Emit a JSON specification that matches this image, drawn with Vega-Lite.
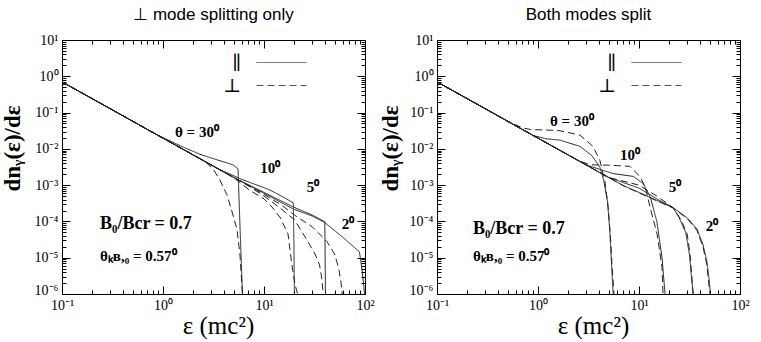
{
  "$schema": "https://vega.github.io/schema/vega-lite/v6.json",
  "padding": {"left": 1, "top": 6, "right": 5, "bottom": 5},
  "config": {"view": {"stroke": null}, "font": "Liberation Serif"},
  "datasets": {
    "curves": [
      {"p":"L","c":"30","m":"∥","e":0.1,"y":0.7},{"p":"L","c":"30","m":"∥","e":0.3,"y":0.128},{"p":"L","c":"30","m":"∥","e":0.87,"y":0.0245},{"p":"L","c":"30","m":"∥","e":1.5,"y":0.012},{"p":"L","c":"30","m":"∥","e":2.32,"y":0.00708},{"p":"L","c":"30","m":"∥","e":3.5,"y":0.0049},{"p":"L","c":"30","m":"∥","e":4.93,"y":0.00363},{"p":"L","c":"30","m":"∥","e":5.53,"y":0.00282},{"p":"L","c":"30","m":"∥","e":5.78,"y":7.9e-5},{"p":"L","c":"30","m":"∥","e":6.12,"y":1e-6},
      {"p":"L","c":"30","m":"⊥","e":0.1,"y":0.7},{"p":"L","c":"30","m":"⊥","e":0.3,"y":0.128},{"p":"L","c":"30","m":"⊥","e":1,"y":0.0197},{"p":"L","c":"30","m":"⊥","e":2,"y":0.00675},{"p":"L","c":"30","m":"⊥","e":2.6,"y":0.00449},{"p":"L","c":"30","m":"⊥","e":3.13,"y":0.00282},{"p":"L","c":"30","m":"⊥","e":3.66,"y":0.00138},{"p":"L","c":"30","m":"⊥","e":4.3,"y":5.4e-4},{"p":"L","c":"30","m":"⊥","e":4.93,"y":1.51e-4},{"p":"L","c":"30","m":"⊥","e":5.41,"y":5.9e-5},{"p":"L","c":"30","m":"⊥","e":5.78,"y":1.2e-5},{"p":"L","c":"30","m":"⊥","e":6.12,"y":1e-6},
      {"p":"L","c":"10","m":"∥","e":0.1,"y":0.7},{"p":"L","c":"10","m":"∥","e":0.3,"y":0.128},{"p":"L","c":"10","m":"∥","e":1,"y":0.0197},{"p":"L","c":"10","m":"∥","e":2,"y":0.00675},{"p":"L","c":"10","m":"∥","e":3.5,"y":0.00283},{"p":"L","c":"10","m":"∥","e":6,"y":0.00145},{"p":"L","c":"10","m":"∥","e":11.4,"y":7.4e-4},{"p":"L","c":"10","m":"∥","e":16,"y":4.47e-4},{"p":"L","c":"10","m":"∥","e":19.5,"y":3.24e-4},{"p":"L","c":"10","m":"∥","e":19.8,"y":2e-5},{"p":"L","c":"10","m":"∥","e":20,"y":1e-6},
      {"p":"L","c":"10","m":"⊥","e":0.1,"y":0.7},{"p":"L","c":"10","m":"⊥","e":0.3,"y":0.128},{"p":"L","c":"10","m":"⊥","e":1,"y":0.0197},{"p":"L","c":"10","m":"⊥","e":2,"y":0.00675},{"p":"L","c":"10","m":"⊥","e":5,"y":0.00163},{"p":"L","c":"10","m":"⊥","e":7.26,"y":7.1e-4},{"p":"L","c":"10","m":"⊥","e":10,"y":4.2e-4},{"p":"L","c":"10","m":"⊥","e":12,"y":2.5e-4},{"p":"L","c":"10","m":"⊥","e":14.5,"y":1.26e-4},{"p":"L","c":"10","m":"⊥","e":17.3,"y":4.5e-5},{"p":"L","c":"10","m":"⊥","e":18.9,"y":6.3e-6},{"p":"L","c":"10","m":"⊥","e":20.3,"y":1.8e-6},{"p":"L","c":"10","m":"⊥","e":21.5,"y":1e-6},
      {"p":"L","c":"5","m":"∥","e":0.1,"y":0.7},{"p":"L","c":"5","m":"∥","e":0.3,"y":0.128},{"p":"L","c":"5","m":"∥","e":1,"y":0.0197},{"p":"L","c":"5","m":"∥","e":2,"y":0.00675},{"p":"L","c":"5","m":"∥","e":5,"y":0.00163},{"p":"L","c":"5","m":"∥","e":10,"y":6.3e-4},{"p":"L","c":"5","m":"∥","e":19.5,"y":2.5e-4},{"p":"L","c":"5","m":"∥","e":30,"y":1.51e-4},{"p":"L","c":"5","m":"∥","e":40,"y":9.8e-5},{"p":"L","c":"5","m":"∥","e":40.3,"y":1e-5},{"p":"L","c":"5","m":"∥","e":40.6,"y":1e-6},
      {"p":"L","c":"5","m":"⊥","e":0.1,"y":0.7},{"p":"L","c":"5","m":"⊥","e":0.3,"y":0.128},{"p":"L","c":"5","m":"⊥","e":1,"y":0.0197},{"p":"L","c":"5","m":"⊥","e":2,"y":0.00675},{"p":"L","c":"5","m":"⊥","e":5,"y":0.00163},{"p":"L","c":"5","m":"⊥","e":7,"y":9.66e-4},{"p":"L","c":"5","m":"⊥","e":10,"y":5e-4},{"p":"L","c":"5","m":"⊥","e":14,"y":2.5e-4},{"p":"L","c":"5","m":"⊥","e":20,"y":1.12e-4},{"p":"L","c":"5","m":"⊥","e":26.4,"y":3.2e-5},{"p":"L","c":"5","m":"⊥","e":32,"y":1.26e-5},{"p":"L","c":"5","m":"⊥","e":35.5,"y":6.3e-6},{"p":"L","c":"5","m":"⊥","e":37.5,"y":2.5e-6},{"p":"L","c":"5","m":"⊥","e":38.5,"y":1e-6},
      {"p":"L","c":"2","m":"∥","e":0.1,"y":0.7},{"p":"L","c":"2","m":"∥","e":0.3,"y":0.128},{"p":"L","c":"2","m":"∥","e":1,"y":0.0197},{"p":"L","c":"2","m":"∥","e":2,"y":0.00675},{"p":"L","c":"2","m":"∥","e":5,"y":0.00163},{"p":"L","c":"2","m":"∥","e":10,"y":6e-4},{"p":"L","c":"2","m":"∥","e":19.5,"y":2.2e-4},{"p":"L","c":"2","m":"∥","e":30,"y":1.41e-4},{"p":"L","c":"2","m":"∥","e":40,"y":9.3e-5},{"p":"L","c":"2","m":"∥","e":60,"y":3.7e-5},{"p":"L","c":"2","m":"∥","e":88,"y":1.45e-5},{"p":"L","c":"2","m":"∥","e":91,"y":7.9e-6},{"p":"L","c":"2","m":"∥","e":94,"y":4e-6},{"p":"L","c":"2","m":"∥","e":97,"y":1.8e-6},{"p":"L","c":"2","m":"∥","e":99,"y":1e-6},
      {"p":"L","c":"2","m":"⊥","e":0.1,"y":0.7},{"p":"L","c":"2","m":"⊥","e":0.3,"y":0.128},{"p":"L","c":"2","m":"⊥","e":1,"y":0.0197},{"p":"L","c":"2","m":"⊥","e":2,"y":0.00675},{"p":"L","c":"2","m":"⊥","e":5,"y":0.00163},{"p":"L","c":"2","m":"⊥","e":10,"y":5.56e-4},{"p":"L","c":"2","m":"⊥","e":15,"y":2.8e-4},{"p":"L","c":"2","m":"⊥","e":20,"y":1.5e-4},{"p":"L","c":"2","m":"⊥","e":30,"y":7.1e-5},{"p":"L","c":"2","m":"⊥","e":42,"y":2.8e-5},{"p":"L","c":"2","m":"⊥","e":50,"y":1.26e-5},{"p":"L","c":"2","m":"⊥","e":55,"y":5e-6},{"p":"L","c":"2","m":"⊥","e":58,"y":2e-6},{"p":"L","c":"2","m":"⊥","e":59.5,"y":1e-6},

      {"p":"R","c":"30","m":"⊥","e":0.1,"y":0.7},{"p":"R","c":"30","m":"⊥","e":0.3,"y":0.128},{"p":"R","c":"30","m":"⊥","e":0.5,"y":0.0578},{"p":"R","c":"30","m":"⊥","e":0.7,"y":0.038},{"p":"R","c":"30","m":"⊥","e":0.85,"y":0.0339},{"p":"R","c":"30","m":"⊥","e":1.2,"y":0.0331},{"p":"R","c":"30","m":"⊥","e":1.65,"y":0.0316},{"p":"R","c":"30","m":"⊥","e":2.6,"y":0.024},{"p":"R","c":"30","m":"⊥","e":3.5,"y":0.0117},{"p":"R","c":"30","m":"⊥","e":4.1,"y":0.00479},{"p":"R","c":"30","m":"⊥","e":4.6,"y":0.00126},{"p":"R","c":"30","m":"⊥","e":4.9,"y":3.2e-4},{"p":"R","c":"30","m":"⊥","e":5.2,"y":4.5e-5},{"p":"R","c":"30","m":"⊥","e":5.4,"y":6.5e-6},{"p":"R","c":"30","m":"⊥","e":5.65,"y":1e-6},
      {"p":"R","c":"30","m":"∥","e":0.1,"y":0.7},{"p":"R","c":"30","m":"∥","e":0.3,"y":0.128},{"p":"R","c":"30","m":"∥","e":0.9,"y":0.0232},{"p":"R","c":"30","m":"∥","e":1.2,"y":0.019},{"p":"R","c":"30","m":"∥","e":1.65,"y":0.0174},{"p":"R","c":"30","m":"∥","e":2.6,"y":0.0117},{"p":"R","c":"30","m":"∥","e":3.4,"y":0.0066},{"p":"R","c":"30","m":"∥","e":4.1,"y":0.00316},{"p":"R","c":"30","m":"∥","e":4.5,"y":0.00126},{"p":"R","c":"30","m":"∥","e":4.9,"y":3.2e-4},{"p":"R","c":"30","m":"∥","e":5.15,"y":5e-5},{"p":"R","c":"30","m":"∥","e":5.35,"y":6.3e-6},{"p":"R","c":"30","m":"∥","e":5.55,"y":1e-6},
      {"p":"R","c":"10","m":"⊥","e":0.1,"y":0.7},{"p":"R","c":"10","m":"⊥","e":0.3,"y":0.128},{"p":"R","c":"10","m":"⊥","e":1,"y":0.0197},{"p":"R","c":"10","m":"⊥","e":2.5,"y":0.00476},{"p":"R","c":"10","m":"⊥","e":3.3,"y":0.00363},{"p":"R","c":"10","m":"⊥","e":5,"y":0.00355},{"p":"R","c":"10","m":"⊥","e":8.1,"y":0.0033},{"p":"R","c":"10","m":"⊥","e":10.2,"y":0.00174},{"p":"R","c":"10","m":"⊥","e":11.5,"y":9.1e-4},{"p":"R","c":"10","m":"⊥","e":12.85,"y":2.5e-4},{"p":"R","c":"10","m":"⊥","e":15.1,"y":4.5e-5},{"p":"R","c":"10","m":"⊥","e":16.9,"y":5.4e-6},{"p":"R","c":"10","m":"⊥","e":17.3,"y":1e-6},
      {"p":"R","c":"10","m":"∥","e":0.1,"y":0.7},{"p":"R","c":"10","m":"∥","e":0.3,"y":0.128},{"p":"R","c":"10","m":"∥","e":1,"y":0.0197},{"p":"R","c":"10","m":"∥","e":2,"y":0.00675},{"p":"R","c":"10","m":"∥","e":3,"y":0.0036},{"p":"R","c":"10","m":"∥","e":5.5,"y":0.00209},{"p":"R","c":"10","m":"∥","e":8.8,"y":0.00174},{"p":"R","c":"10","m":"∥","e":11,"y":0.0011},{"p":"R","c":"10","m":"∥","e":12.9,"y":4.8e-4},{"p":"R","c":"10","m":"∥","e":15,"y":1.02e-4},{"p":"R","c":"10","m":"∥","e":16.9,"y":1e-5},{"p":"R","c":"10","m":"∥","e":18.1,"y":1e-6},
      {"p":"R","c":"5","m":"⊥","e":0.1,"y":0.7},{"p":"R","c":"5","m":"⊥","e":0.3,"y":0.128},{"p":"R","c":"5","m":"⊥","e":1,"y":0.0197},{"p":"R","c":"5","m":"⊥","e":2,"y":0.00675},{"p":"R","c":"5","m":"⊥","e":5,"y":0.00163},{"p":"R","c":"5","m":"⊥","e":10,"y":0.001},{"p":"R","c":"5","m":"⊥","e":15,"y":5e-4},{"p":"R","c":"5","m":"⊥","e":21.7,"y":2.4e-4},{"p":"R","c":"5","m":"⊥","e":26,"y":1.12e-4},{"p":"R","c":"5","m":"⊥","e":30,"y":4.5e-5},{"p":"R","c":"5","m":"⊥","e":32,"y":1.26e-5},{"p":"R","c":"5","m":"⊥","e":33.5,"y":2.5e-6},{"p":"R","c":"5","m":"⊥","e":34.3,"y":1e-6},
      {"p":"R","c":"5","m":"∥","e":0.1,"y":0.7},{"p":"R","c":"5","m":"∥","e":0.3,"y":0.128},{"p":"R","c":"5","m":"∥","e":1,"y":0.0197},{"p":"R","c":"5","m":"∥","e":2,"y":0.00675},{"p":"R","c":"5","m":"∥","e":5,"y":0.00163},{"p":"R","c":"5","m":"∥","e":10,"y":8.3e-4},{"p":"R","c":"5","m":"∥","e":15,"y":4.2e-4},{"p":"R","c":"5","m":"∥","e":21.7,"y":2.4e-4},{"p":"R","c":"5","m":"∥","e":25,"y":1.26e-4},{"p":"R","c":"5","m":"∥","e":29,"y":5e-5},{"p":"R","c":"5","m":"∥","e":31.5,"y":1.26e-5},{"p":"R","c":"5","m":"∥","e":33.5,"y":2e-6},{"p":"R","c":"5","m":"∥","e":34.5,"y":1e-6},
      {"p":"R","c":"2","m":"∥","e":0.1,"y":0.7},{"p":"R","c":"2","m":"∥","e":0.3,"y":0.128},{"p":"R","c":"2","m":"∥","e":1,"y":0.0197},{"p":"R","c":"2","m":"∥","e":2,"y":0.00675},{"p":"R","c":"2","m":"∥","e":5,"y":0.00163},{"p":"R","c":"2","m":"∥","e":7,"y":9.66e-4},{"p":"R","c":"2","m":"∥","e":10,"y":6.3e-4},{"p":"R","c":"2","m":"∥","e":15,"y":3.8e-4},{"p":"R","c":"2","m":"∥","e":21.7,"y":2.4e-4},{"p":"R","c":"2","m":"∥","e":30,"y":1.26e-4},{"p":"R","c":"2","m":"∥","e":37.5,"y":6.2e-5},{"p":"R","c":"2","m":"∥","e":43,"y":2.3e-5},{"p":"R","c":"2","m":"∥","e":47,"y":7.9e-6},{"p":"R","c":"2","m":"∥","e":49.5,"y":2.5e-6},{"p":"R","c":"2","m":"∥","e":51,"y":1e-6},
      {"p":"R","c":"2","m":"⊥","e":0.1,"y":0.7},{"p":"R","c":"2","m":"⊥","e":0.3,"y":0.128},{"p":"R","c":"2","m":"⊥","e":1,"y":0.0197},{"p":"R","c":"2","m":"⊥","e":2,"y":0.00675},{"p":"R","c":"2","m":"⊥","e":5,"y":0.00163},{"p":"R","c":"2","m":"⊥","e":7,"y":9.66e-4},{"p":"R","c":"2","m":"⊥","e":10,"y":6.1e-4},{"p":"R","c":"2","m":"⊥","e":15,"y":3.7e-4},{"p":"R","c":"2","m":"⊥","e":21.7,"y":2.35e-4},{"p":"R","c":"2","m":"⊥","e":30,"y":1.2e-4},{"p":"R","c":"2","m":"⊥","e":37.5,"y":5.6e-5},{"p":"R","c":"2","m":"⊥","e":43,"y":2e-5},{"p":"R","c":"2","m":"⊥","e":47,"y":6.3e-6},{"p":"R","c":"2","m":"⊥","e":49,"y":2e-6},{"p":"R","c":"2","m":"⊥","e":50.5,"y":1e-6}
    ],
    "notes": [
      {"p":"L","k":"a","e":2.17,"y":0.0297,"t":"θ = 30⁰"},
      {"p":"L","k":"a","e":11.5,"y":0.00295,"t":"10⁰"},
      {"p":"L","k":"a","e":30.5,"y":8.9e-4,"t":"5⁰"},
      {"p":"L","k":"a","e":67.9,"y":8.5e-5,"t":"2⁰"},
      {"p":"L","k":"b","e":0.238,"y":8.5e-5,"t":"B₀/Bcr = 0.7"},
      {"p":"L","k":"c","e":0.238,"y":1.12e-5,"t":"θₖʙ,₀ = 0.57⁰"},
      {"p":"R","k":"a","e":2.17,"y":0.059,"t":"θ = 30⁰"},
      {"p":"R","k":"a","e":8.15,"y":0.0066,"t":"10⁰"},
      {"p":"R","k":"a","e":22.7,"y":9.1e-4,"t":"5⁰"},
      {"p":"R","k":"a","e":52.8,"y":7.4e-5,"t":"2⁰"},
      {"p":"R","k":"b","e":0.227,"y":6.2e-5,"t":"B₀/Bcr = 0.7"},
      {"p":"R","k":"c","e":0.227,"y":1.15e-5,"t":"θₖʙ,₀ = 0.57⁰"}
    ]
  },
  "spacing": 72,
  "bounds": "flush",
  "resolve": {"scale": {"strokeDash": "independent"}},
  "hconcat": [
    {
      "width": 303, "height": 254,
      "title": {"text": "⊥ mode splitting only", "font": "Liberation Sans", "fontSize": 17, "fontWeight": "normal", "color": "#000", "offset": 9},
      "layer": [
        {
          "data": {"name": "curves"},
          "transform": [{"filter": "datum.p == 'L'"}],
          "mark": {"type": "line", "stroke": "#222", "strokeWidth": 1, "clip": true},
          "encoding": {
            "x": {"field": "e", "type": "quantitative", "scale": {"type": "log", "domain": [0.1, 100], "nice": false},
              "axis": {"orient": "bottom", "values": [0.1,0.2,0.3,0.4,0.5,0.6,0.7,0.8,0.9,1,2,3,4,5,6,7,8,9,10,20,30,40,50,60,70,80,90,100],
                "labelExpr": "abs(log(datum.value)/LN10 - round(log(datum.value)/LN10)) < 0.001 ? '10' + replace(replace(replace(replace(replace(replace(replace(replace('' + round(log(datum.value)/LN10), '-', '⁻'), '0', '⁰'), '1', '¹'), '2', '²'), '3', '³'), '4', '⁴'), '5', '⁵'), '6', '⁶') : ''",
                "labelFlush": false, "labelOverlap": false, "grid": false,
                "tickSize": {"condition": {"test": "abs(log(datum.value)/LN10 - round(log(datum.value)/LN10)) < 0.001", "value": -8}, "value": -4},
                "tickColor": "#000", "domainColor": "#000", "labelFont": "Liberation Serif", "labelFontSize": 14, "labelColor": "#000", "labelPadding": 12,
                "title": "ε (mc²)", "titleFont": "Liberation Serif", "titleFontSize": 25, "titleFontWeight": "normal", "titleColor": "#000",
                "titleX": 156, "titleY": 39, "titleBaseline": "alphabetic", "titleAlign": "center"}},
            "y": {"field": "y", "type": "quantitative", "scale": {"type": "log", "domain": [1e-6, 10], "nice": false},
              "axis": {"orient": "left", "values": [1e-6,2e-6,3e-6,4e-6,5e-6,6e-6,7e-6,8e-6,9e-6,1e-5,2e-5,3e-5,4e-5,5e-5,6e-5,7e-5,8e-5,9e-5,1e-4,2e-4,3e-4,4e-4,5e-4,6e-4,7e-4,8e-4,9e-4,0.001,0.002,0.003,0.004,0.005,0.006,0.007,0.008,0.009,0.01,0.02,0.03,0.04,0.05,0.06,0.07,0.08,0.09,0.1,0.2,0.3,0.4,0.5,0.6,0.7,0.8,0.9,1,2,3,4,5,6,7,8,9,10],
                "labelExpr": "abs(log(datum.value)/LN10 - round(log(datum.value)/LN10)) < 0.001 ? '10' + replace(replace(replace(replace(replace(replace(replace(replace('' + round(log(datum.value)/LN10), '-', '⁻'), '0', '⁰'), '1', '¹'), '2', '²'), '3', '³'), '4', '⁴'), '5', '⁵'), '6', '⁶') : ''",
                "labelFlush": false, "labelOverlap": false, "grid": false,
                "labelOffset": {"condition": {"test": "datum.value < 1.5e-6", "value": -4}, "value": 0},
                "tickSize": {"condition": {"test": "abs(log(datum.value)/LN10 - round(log(datum.value)/LN10)) < 0.001", "value": -8}, "value": -4},
                "tickColor": "#000", "domainColor": "#000", "labelFont": "Liberation Serif", "labelFontSize": 14, "labelColor": "#000", "labelPadding": 12,
                "title": "dnᵧ(ε)/dε", "titleFont": "Liberation Serif", "titleFontSize": 23, "titleFontWeight": "bold", "titleColor": "#000",
                "titleX": -50, "titleY": 108, "titleAngle": 270, "titleBaseline": "middle", "titleAlign": "center"}},
            "detail": {"field": "c"},
            "strokeDash": {"field": "m", "type": "nominal", "scale": {"domain": ["∥", "⊥"], "range": [[1, 0], [7, 4]]},
              "legend": {"orient": "none", "legendX": 209, "legendY": 12, "title": null, "symbolType": "M-2.5,0H2.5", "symbolSize": 400, "symbolStrokeColor": "#555", "symbolStrokeWidth": 1, "labelFont": "DejaVu Serif", "labelFontSize": 19, "labelColor": "#000", "labelOffset": -51, "labelAlign": "right", "rowPadding": 2, "padding": 0}}
          }
        },
        {
          "data": {"name": "notes"},
          "transform": [{"filter": "datum.p == 'L' && datum.k == 'a'"}],
          "mark": {"type": "text", "font": "Liberation Serif", "fontWeight": "bold", "fontSize": 15, "align": "center", "baseline": "middle", "color": "#000"},
          "encoding": {
            "x": {"field": "e", "type": "quantitative", "scale": {"type": "log", "domain": [0.1, 100], "nice": false},
              "axis": {"orient": "top", "values": [0.1,0.2,0.3,0.4,0.5,0.6,0.7,0.8,0.9,1,2,3,4,5,6,7,8,9,10,20,30,40,50,60,70,80,90,100], "labels": false, "title": null, "grid": false,
                "tickSize": {"condition": {"test": "abs(log(datum.value)/LN10 - round(log(datum.value)/LN10)) < 0.001", "value": -8}, "value": -4},
                "tickColor": "#000", "domainColor": "#000"}},
            "y": {"field": "y", "type": "quantitative", "scale": {"type": "log", "domain": [1e-6, 10], "nice": false},
              "axis": {"orient": "right", "values": [1e-6,2e-6,3e-6,4e-6,5e-6,6e-6,7e-6,8e-6,9e-6,1e-5,2e-5,3e-5,4e-5,5e-5,6e-5,7e-5,8e-5,9e-5,1e-4,2e-4,3e-4,4e-4,5e-4,6e-4,7e-4,8e-4,9e-4,0.001,0.002,0.003,0.004,0.005,0.006,0.007,0.008,0.009,0.01,0.02,0.03,0.04,0.05,0.06,0.07,0.08,0.09,0.1,0.2,0.3,0.4,0.5,0.6,0.7,0.8,0.9,1,2,3,4,5,6,7,8,9,10], "labels": false, "title": null, "grid": false,
                "tickSize": {"condition": {"test": "abs(log(datum.value)/LN10 - round(log(datum.value)/LN10)) < 0.001", "value": -8}, "value": -4},
                "tickColor": "#000", "domainColor": "#000"}},
            "text": {"field": "t"}
          }
        },
        {
          "data": {"name": "notes"},
          "transform": [{"filter": "datum.p == 'L' && datum.k == 'b'"}],
          "mark": {"type": "text", "font": "Liberation Serif", "fontWeight": "bold", "fontSize": 18, "align": "left", "baseline": "middle", "color": "#000"},
          "encoding": {
            "x": {"field": "e", "type": "quantitative", "scale": {"type": "log", "domain": [0.1, 100], "nice": false}, "axis": null},
            "y": {"field": "y", "type": "quantitative", "scale": {"type": "log", "domain": [1e-6, 10], "nice": false}, "axis": null},
            "text": {"field": "t"}
          }
        },
        {
          "data": {"name": "notes"},
          "transform": [{"filter": "datum.p == 'L' && datum.k == 'c'"}],
          "mark": {"type": "text", "font": "Liberation Serif", "fontWeight": "bold", "fontSize": 15, "align": "left", "baseline": "middle", "color": "#000"},
          "encoding": {
            "x": {"field": "e", "type": "quantitative", "scale": {"type": "log", "domain": [0.1, 100], "nice": false}, "axis": null},
            "y": {"field": "y", "type": "quantitative", "scale": {"type": "log", "domain": [1e-6, 10], "nice": false}, "axis": null},
            "text": {"field": "t"}
          }
        }
      ]
    },
    {
      "width": 303, "height": 254,
      "title": {"text": "Both modes split", "font": "Liberation Sans", "fontSize": 17, "fontWeight": "normal", "color": "#000", "offset": 9},
      "layer": [
        {
          "data": {"name": "curves"},
          "transform": [{"filter": "datum.p == 'R'"}],
          "mark": {"type": "line", "stroke": "#222", "strokeWidth": 1, "clip": true},
          "encoding": {
            "x": {"field": "e", "type": "quantitative", "scale": {"type": "log", "domain": [0.1, 100], "nice": false},
              "axis": {"orient": "bottom", "values": [0.1,0.2,0.3,0.4,0.5,0.6,0.7,0.8,0.9,1,2,3,4,5,6,7,8,9,10,20,30,40,50,60,70,80,90,100],
                "labelExpr": "abs(log(datum.value)/LN10 - round(log(datum.value)/LN10)) < 0.001 ? '10' + replace(replace(replace(replace(replace(replace(replace(replace('' + round(log(datum.value)/LN10), '-', '⁻'), '0', '⁰'), '1', '¹'), '2', '²'), '3', '³'), '4', '⁴'), '5', '⁵'), '6', '⁶') : ''",
                "labelFlush": false, "labelOverlap": false, "grid": false,
                "tickSize": {"condition": {"test": "abs(log(datum.value)/LN10 - round(log(datum.value)/LN10)) < 0.001", "value": -8}, "value": -4},
                "tickColor": "#000", "domainColor": "#000", "labelFont": "Liberation Serif", "labelFontSize": 14, "labelColor": "#000", "labelPadding": 12,
                "title": "ε (mc²)", "titleFont": "Liberation Serif", "titleFontSize": 25, "titleFontWeight": "normal", "titleColor": "#000",
                "titleX": 156, "titleY": 39, "titleBaseline": "alphabetic", "titleAlign": "center"}},
            "y": {"field": "y", "type": "quantitative", "scale": {"type": "log", "domain": [1e-6, 10], "nice": false},
              "axis": {"orient": "left", "values": [1e-6,2e-6,3e-6,4e-6,5e-6,6e-6,7e-6,8e-6,9e-6,1e-5,2e-5,3e-5,4e-5,5e-5,6e-5,7e-5,8e-5,9e-5,1e-4,2e-4,3e-4,4e-4,5e-4,6e-4,7e-4,8e-4,9e-4,0.001,0.002,0.003,0.004,0.005,0.006,0.007,0.008,0.009,0.01,0.02,0.03,0.04,0.05,0.06,0.07,0.08,0.09,0.1,0.2,0.3,0.4,0.5,0.6,0.7,0.8,0.9,1,2,3,4,5,6,7,8,9,10],
                "labelExpr": "abs(log(datum.value)/LN10 - round(log(datum.value)/LN10)) < 0.001 ? '10' + replace(replace(replace(replace(replace(replace(replace(replace('' + round(log(datum.value)/LN10), '-', '⁻'), '0', '⁰'), '1', '¹'), '2', '²'), '3', '³'), '4', '⁴'), '5', '⁵'), '6', '⁶') : ''",
                "labelFlush": false, "labelOverlap": false, "grid": false,
                "labelOffset": {"condition": {"test": "datum.value < 1.5e-6", "value": -4}, "value": 0},
                "tickSize": {"condition": {"test": "abs(log(datum.value)/LN10 - round(log(datum.value)/LN10)) < 0.001", "value": -8}, "value": -4},
                "tickColor": "#000", "domainColor": "#000", "labelFont": "Liberation Serif", "labelFontSize": 14, "labelColor": "#000", "labelPadding": 12,
                "title": "dnᵧ(ε)/dε", "titleFont": "Liberation Serif", "titleFontSize": 23, "titleFontWeight": "bold", "titleColor": "#000",
                "titleX": -47, "titleY": 108, "titleAngle": 270, "titleBaseline": "middle", "titleAlign": "center"}},
            "detail": {"field": "c"},
            "strokeDash": {"field": "m", "type": "nominal", "scale": {"domain": ["∥", "⊥"], "range": [[1, 0], [7, 4]]},
              "legend": {"orient": "none", "legendX": 209, "legendY": 12, "title": null, "symbolType": "M-2.5,0H2.5", "symbolSize": 400, "symbolStrokeColor": "#555", "symbolStrokeWidth": 1, "labelFont": "DejaVu Serif", "labelFontSize": 19, "labelColor": "#000", "labelOffset": -51, "labelAlign": "right", "rowPadding": 2, "padding": 0}}
          }
        },
        {
          "data": {"name": "notes"},
          "transform": [{"filter": "datum.p == 'R' && datum.k == 'a'"}],
          "mark": {"type": "text", "font": "Liberation Serif", "fontWeight": "bold", "fontSize": 15, "align": "center", "baseline": "middle", "color": "#000"},
          "encoding": {
            "x": {"field": "e", "type": "quantitative", "scale": {"type": "log", "domain": [0.1, 100], "nice": false},
              "axis": {"orient": "top", "values": [0.1,0.2,0.3,0.4,0.5,0.6,0.7,0.8,0.9,1,2,3,4,5,6,7,8,9,10,20,30,40,50,60,70,80,90,100], "labels": false, "title": null, "grid": false,
                "tickSize": {"condition": {"test": "abs(log(datum.value)/LN10 - round(log(datum.value)/LN10)) < 0.001", "value": -8}, "value": -4},
                "tickColor": "#000", "domainColor": "#000"}},
            "y": {"field": "y", "type": "quantitative", "scale": {"type": "log", "domain": [1e-6, 10], "nice": false},
              "axis": {"orient": "right", "values": [1e-6,2e-6,3e-6,4e-6,5e-6,6e-6,7e-6,8e-6,9e-6,1e-5,2e-5,3e-5,4e-5,5e-5,6e-5,7e-5,8e-5,9e-5,1e-4,2e-4,3e-4,4e-4,5e-4,6e-4,7e-4,8e-4,9e-4,0.001,0.002,0.003,0.004,0.005,0.006,0.007,0.008,0.009,0.01,0.02,0.03,0.04,0.05,0.06,0.07,0.08,0.09,0.1,0.2,0.3,0.4,0.5,0.6,0.7,0.8,0.9,1,2,3,4,5,6,7,8,9,10], "labels": false, "title": null, "grid": false,
                "tickSize": {"condition": {"test": "abs(log(datum.value)/LN10 - round(log(datum.value)/LN10)) < 0.001", "value": -8}, "value": -4},
                "tickColor": "#000", "domainColor": "#000"}},
            "text": {"field": "t"}
          }
        },
        {
          "data": {"name": "notes"},
          "transform": [{"filter": "datum.p == 'R' && datum.k == 'b'"}],
          "mark": {"type": "text", "font": "Liberation Serif", "fontWeight": "bold", "fontSize": 18, "align": "left", "baseline": "middle", "color": "#000"},
          "encoding": {
            "x": {"field": "e", "type": "quantitative", "scale": {"type": "log", "domain": [0.1, 100], "nice": false}, "axis": null},
            "y": {"field": "y", "type": "quantitative", "scale": {"type": "log", "domain": [1e-6, 10], "nice": false}, "axis": null},
            "text": {"field": "t"}
          }
        },
        {
          "data": {"name": "notes"},
          "transform": [{"filter": "datum.p == 'R' && datum.k == 'c'"}],
          "mark": {"type": "text", "font": "Liberation Serif", "fontWeight": "bold", "fontSize": 15, "align": "left", "baseline": "middle", "color": "#000"},
          "encoding": {
            "x": {"field": "e", "type": "quantitative", "scale": {"type": "log", "domain": [0.1, 100], "nice": false}, "axis": null},
            "y": {"field": "y", "type": "quantitative", "scale": {"type": "log", "domain": [1e-6, 10], "nice": false}, "axis": null},
            "text": {"field": "t"}
          }
        }
      ]
    }
  ]
}
